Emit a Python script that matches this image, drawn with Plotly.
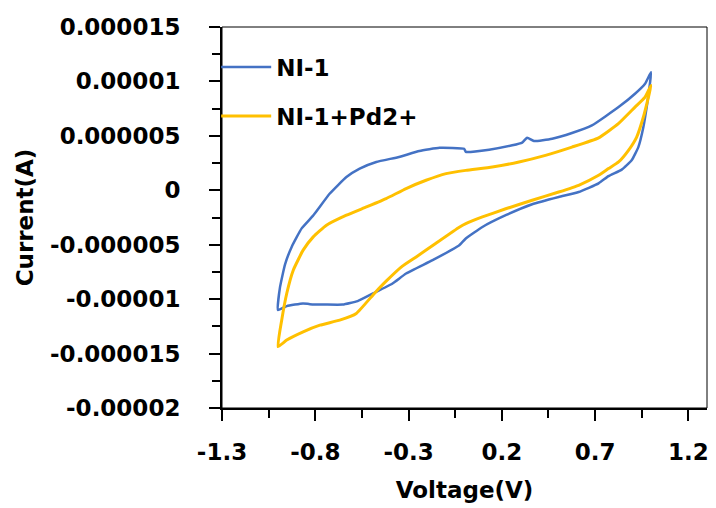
import plotly.graph_objects as go

# NI-1 cyclic voltammogram (V, A*1e-6), closed loop
ni1_v = [-1.0, -0.989, -0.962, -0.926, -0.873, -0.810, -0.722, -0.633, -0.562, -0.473,
         -0.351, -0.242, -0.134, -0.002, 0.007, 0.132, 0.256, 0.309, 0.336, 0.372,
         0.470, 0.576, 0.683, 0.826, 0.914, 0.968, 1.0,
         0.994, 0.982, 0.959, 0.932, 0.896, 0.843, 0.772, 0.719, 0.612, 0.505, 0.363, 0.221,
         0.096, 0.007, -0.028, -0.171, -0.313, -0.386, -0.491, -0.573, -0.653,
         -0.740, -0.829, -0.866, -0.953, -1.0]
ni1_i = [-11.0, -8.9, -6.8, -5.18, -3.5, -2.3, -0.30, 1.22, 1.99, 2.60,
         3.06, 3.61, 3.90, 3.81, 3.53, 3.73, 4.13, 4.38, 4.83, 4.52,
         4.74, 5.26, 5.96, 7.64, 8.87, 9.79, 10.85,
         9.79, 8.26, 5.81, 3.97, 2.75, 1.9, 1.3, 0.64, -0.16, -0.61, -1.28, -2.29,
         -3.37, -4.43, -5.05, -6.42, -7.64, -8.56, -9.48, -10.18, -10.50,
         -10.50, -10.46, -10.39, -10.64, -11.0]

# NI-1+Pd2+ cyclic voltammogram (V, A*1e-6), closed loop
pd_v = [-1.0, -0.980, -0.953, -0.918, -0.865, -0.811, -0.740, -0.633, -0.526, -0.420,
        -0.313, -0.206, -0.099, 0.007, 0.149, 0.292, 0.434, 0.576, 0.719, 0.825,
        0.914, 0.968, 1.0,
        0.986, 0.959, 0.923, 0.879, 0.826, 0.772, 0.719, 0.612, 0.505, 0.363, 0.221,
        0.096, 0.007, -0.028, -0.153, -0.259, -0.333, -0.420, -0.482, -0.580,
        -0.669, -0.775, -0.865, -0.953, -1.0]
pd_i = [-14.36, -11.93, -9.48, -7.34, -5.50, -4.28, -3.21, -2.29, -1.53, -0.76,
        0.16, 0.92, 1.53, 1.83, 2.14, 2.60, 3.21, 3.97, 4.82, 6.12,
        7.64, 8.56, 9.63,
        8.56, 6.73, 4.89, 3.67, 2.60, 1.99, 1.38, 0.46, -0.16, -0.92, -1.70,
        -2.45, -3.06, -3.39, -4.86, -6.12, -6.97, -8.35, -9.45, -11.31,
        -11.93, -12.39, -13.0, -13.76, -14.36]

x_tickvals = [-1.3, -0.8, -0.3, 0.2, 0.7, 1.2]
x_ticktext = ["-1.3", "-0.8", "-0.3", "0.2", "0.7", "1.2"]
y_tickvals = [1.5e-5, 1e-5, 5e-6, 0, -5e-6, -1e-5, -1.5e-5, -2e-5]
y_ticktext = ["0.000015", "0.00001", "0.000005", "0", "-0.000005",
              "-0.00001", "-0.000015", "-0.00002"]

FONT = "DejaVu Sans"

fig = go.Figure()
fig.add_trace(go.Scatter(x=ni1_v, y=[v * 1e-6 for v in ni1_i], mode="lines",
                         name="NI-1", legendgroup="a",
                         line=dict(color="#4472C4", width=2.5, shape="spline", smoothing=0.4)))
fig.add_trace(go.Scatter(x=pd_v, y=[v * 1e-6 for v in pd_i], mode="lines",
                         name="NI-1+Pd2+", legendgroup="b",
                         line=dict(color="#FFC000", width=3, shape="spline", smoothing=0.4)))

axis_common = dict(showline=True, linecolor="black", linewidth=2, ticks="outside",
                   ticklen=11, tickwidth=2, tickcolor="black", showgrid=False,
                   zeroline=False,
                   tickfont=dict(family=FONT, size=23, color="black", weight="bold"))

fig.update_xaxes(range=[-1.3, 1.3], tickmode="array", tickvals=x_tickvals,
                 ticktext=x_ticktext, ticklabelstandoff=11,
                 minor=dict(ticks="outside", ticklen=8, tickwidth=2, tickcolor="black",
                            dtick=0.25, tick0=-1.3),
                 title=dict(text="Voltage(V)", standoff=18,
                            font=dict(family=FONT, size=23, color="black", weight="bold")),
                 **axis_common)
fig.update_yaxes(range=[-2e-5, 1.5e-5], tickmode="array", tickvals=y_tickvals,
                 ticktext=y_ticktext, ticklabelstandoff=24,
                 minor=dict(ticks="outside", ticklen=8, tickwidth=2, tickcolor="black",
                            dtick=2.5e-6, tick0=0),
                 title=dict(text="Current(A)", standoff=10,
                            font=dict(family=FONT, size=23, color="black", weight="bold")),
                 **axis_common)

fig.add_shape(type="rect", xref="paper", yref="paper", x0=0, x1=1, y0=0, y1=1,
              line=dict(color="black", width=1), layer="above")

fig.update_layout(
    width=716, height=508,
    margin=dict(l=222, r=7, t=27, b=100),
    paper_bgcolor="white", plot_bgcolor="white",
    showlegend=True,
    legend=dict(x=-0.012, y=0.951, xanchor="left", yanchor="top",
                bgcolor="rgba(0,0,0,0)", itemwidth=50, tracegroupgap=16,
                font=dict(family=FONT, size=23, color="black", weight="bold")),
)

fig.write_html("out.html")
